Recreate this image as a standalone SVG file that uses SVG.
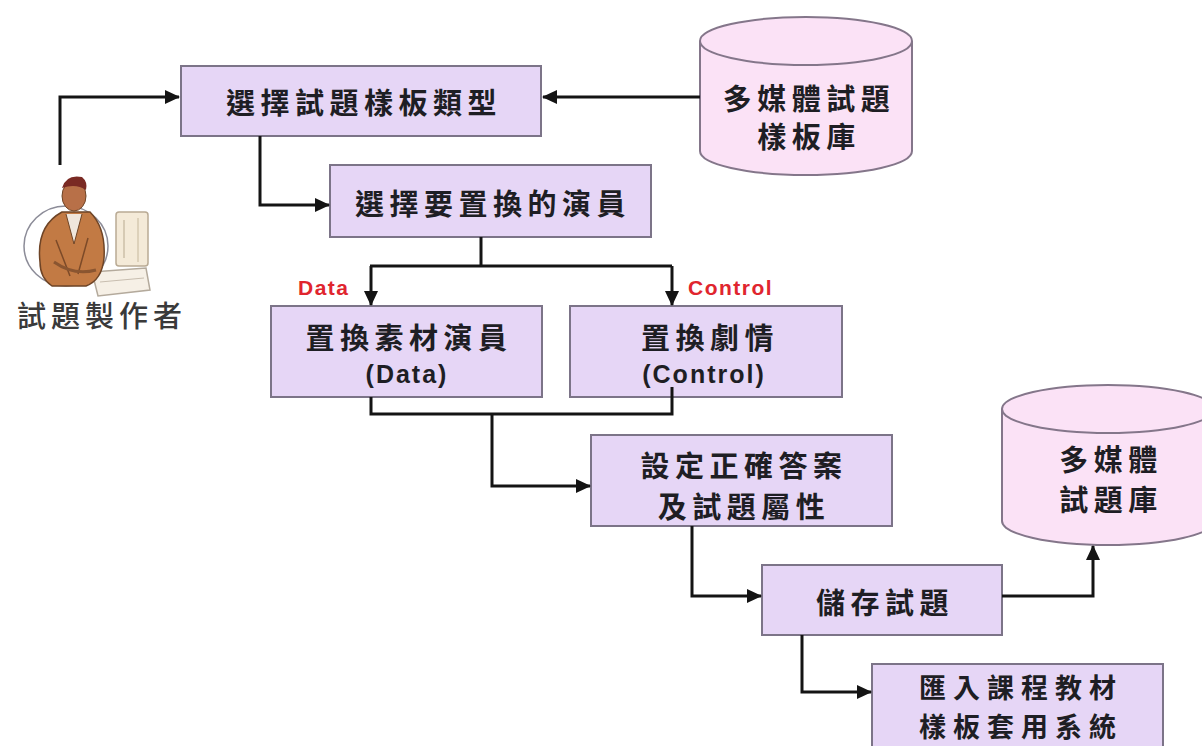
<svg xmlns="http://www.w3.org/2000/svg" width="1202" height="746" viewBox="0 0 1202 746">
  <style>
    .box { fill: #e6d6f6; stroke: #7c7488; stroke-width: 2; }
    .db { fill: #fbe2f6; stroke: #84768a; stroke-width: 2; }
    .cjk { font-family: "Noto Sans CJK TC", "Noto Sans CJK SC", sans-serif; font-size: 29px; font-weight: 700; fill: #1e1e24; letter-spacing: 5.5px; text-anchor: middle; dominant-baseline: central; }
    .cjk.small { font-size: 27px; letter-spacing: 7px; }
    .lat { font-family: "Liberation Sans", Arial, sans-serif; font-size: 25px; font-weight: 700; fill: #1e1e24; letter-spacing: 2px; text-anchor: middle; dominant-baseline: central; }
    .tag { font-family: "Liberation Sans", Arial, sans-serif; font-size: 21px; font-weight: 700; fill: #e0252e; letter-spacing: 1.5px; dominant-baseline: central; }
    .who { font-family: "Noto Sans CJK TC", "Noto Sans CJK SC", sans-serif; font-size: 29px; font-weight: 500; fill: #3a3a3a; letter-spacing: 5px; text-anchor: middle; dominant-baseline: central; }
    .link { fill: none; stroke: #141414; stroke-width: 3; }
  </style>
  <defs>
    <marker id="arrow" markerUnits="userSpaceOnUse" markerWidth="15" markerHeight="14" refX="14" refY="7" orient="auto">
      <path d="M0,0 L15,7 L0,14 z" fill="#141414"/>
    </marker>
  </defs>

  <rect width="1202" height="746" fill="#ffffff"/>

  <!-- author figure at the workstation -->
  <g id="author">
    <ellipse cx="66" cy="246" rx="42" ry="40" fill="none" stroke="#8c8c98" stroke-width="1.5"/>
    <!-- monitor / document stack -->
    <rect x="116" y="212" width="32" height="54" rx="3" fill="#f4ead8" stroke="#b9aa94" stroke-width="1.5"/>
    <line x1="124" y1="220" x2="124" y2="258" stroke="#cdbfa8" stroke-width="1.5"/>
    <line x1="138" y1="218" x2="138" y2="262" stroke="#d6c8b0" stroke-width="1.5"/>
    <!-- keyboard -->
    <path d="M92,272 L146,268 L150,290 L98,296 z" fill="#f6f0e6" stroke="#b4aa9c" stroke-width="1.5"/>
    <line x1="100" y1="282" x2="144" y2="278" stroke="#c8beb0" stroke-width="1"/>
    <!-- torso -->
    <path d="M40,262 Q36,226 62,212 L90,212 Q106,228 104,258 Q102,280 86,286 L52,286 Q40,278 40,262 z" fill="#c27a44" stroke="#6e4426" stroke-width="1.5"/>
    <path d="M66,214 L74,244 L82,214" fill="#efe6dc" stroke="#6e4426" stroke-width="1"/>
    <path d="M56,240 L70,276 M88,238 L78,274" stroke="#7c4a28" stroke-width="1.5" fill="none"/>
    <!-- arms -->
    <path d="M54,262 Q74,276 96,270" fill="none" stroke="#8a5530" stroke-width="3"/>
    <!-- head -->
    <ellipse cx="74" cy="196" rx="12" ry="15" fill="#b87048" stroke="#6e4426" stroke-width="1"/>
    <path d="M62,188 Q66,174 82,177 Q88,182 86,190 Q76,183 62,188 z" fill="#7a2a24"/>
    <text class="who" x="102" y="314">試題製作者</text>
  </g>

  <!-- process boxes -->
  <g id="pick-template">
    <rect class="box" x="181" y="66" width="360" height="70"/>
    <text class="cjk" x="364" y="101">選擇試題樣板類型</text>
  </g>
  <g id="pick-actor">
    <rect class="box" x="330" y="165" width="321" height="72"/>
    <text class="cjk" x="493" y="202">選擇要置換的演員</text>
  </g>
  <g id="swap-data">
    <rect class="box" x="271" y="306" width="271" height="91"/>
    <text class="cjk" x="409" y="336">置換素材演員</text>
    <text class="lat" x="407" y="374">(Data)</text>
  </g>
  <g id="swap-control">
    <rect class="box" x="570" y="306" width="272" height="91"/>
    <text class="cjk" x="710" y="336">置換劇情</text>
    <text class="lat" x="704" y="374">(Control)</text>
  </g>
  <g id="set-answer">
    <rect class="box" x="591" y="435" width="301" height="91"/>
    <text class="cjk" x="744" y="464">設定正確答案</text>
    <text class="cjk" x="744" y="505">及試題屬性</text>
  </g>
  <g id="save-item">
    <rect class="box" x="762" y="565" width="240" height="70"/>
    <text class="cjk" x="885" y="601">儲存試題</text>
  </g>
  <g id="import">
    <rect class="box" x="872" y="664" width="291" height="100"/>
    <text class="cjk small" x="1021" y="686">匯入課程教材</text>
    <text class="cjk small" x="1021" y="725">樣板套用系統</text>
  </g>

  <!-- data stores -->
  <g id="template-store">
    <path class="db" d="M700,41 V151 A106,24 0 0 0 912,151 V41"/>
    <ellipse class="db" cx="806" cy="41" rx="106" ry="24"/>
    <text class="cjk" x="809" y="97">多媒體試題</text>
    <text class="cjk" x="809" y="135">樣板庫</text>
  </g>
  <g id="item-store">
    <path class="db" d="M1002,409 V521 A106,24 0 0 0 1214,521 V409"/>
    <ellipse class="db" cx="1108" cy="409" rx="106" ry="24"/>
    <text class="cjk" x="1111" y="458">多媒體</text>
    <text class="cjk" x="1111" y="498">試題庫</text>
  </g>

  <!-- connectors -->
  <g id="connectors">
    <path class="link" d="M60,165 V97 H179" marker-end="url(#arrow)"/>
    <path class="link" d="M700,97 H543" marker-end="url(#arrow)"/>
    <path class="link" d="M260,136 V205 H329" marker-end="url(#arrow)"/>
    <path class="link" d="M481,237 V266"/>
    <path class="link" d="M370,266 H672"/>
    <path class="link" d="M371,266 V305" marker-end="url(#arrow)"/>
    <path class="link" d="M672,266 V305" marker-end="url(#arrow)"/>
    <path class="link" d="M371,397 V414 H672 V387"/>
    <path class="link" d="M492,414 V486 H590" marker-end="url(#arrow)"/>
    <path class="link" d="M692,526 V596 H761" marker-end="url(#arrow)"/>
    <path class="link" d="M1002,596 H1093 V546" marker-end="url(#arrow)"/>
    <path class="link" d="M802,635 V692 H871" marker-end="url(#arrow)"/>
    <text class="tag" x="298" y="287">Data</text>
    <text class="tag" x="688" y="287">Control</text>
  </g>
</svg>
